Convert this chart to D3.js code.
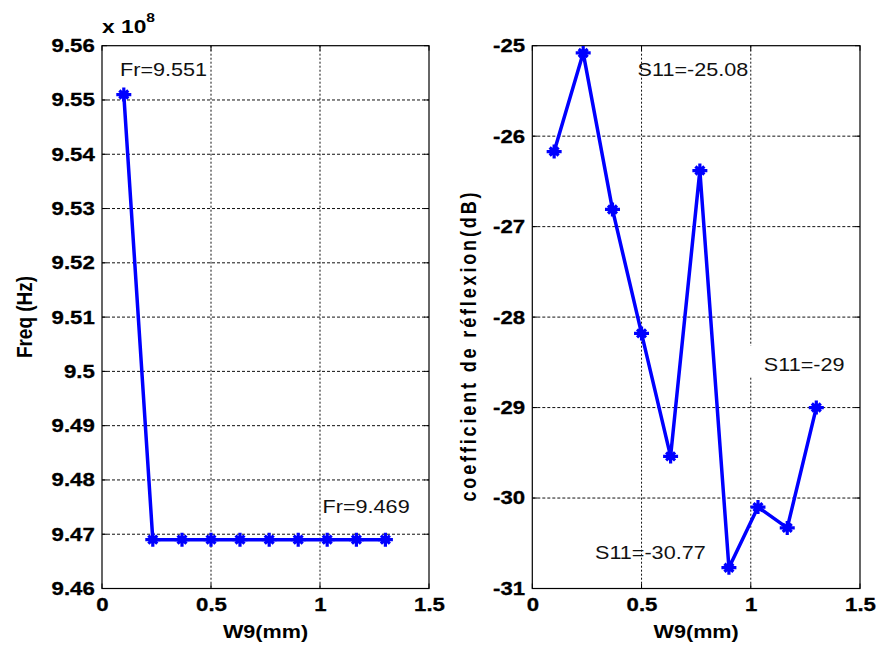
<!DOCTYPE html>
<html>
<head>
<meta charset="utf-8">
<script src="https://cdn.jsdelivr.net/npm/d3@7"></script>
<style>
  html, body { margin: 0; padding: 0; background: #fff; }
  svg { display: block; font-family: "Liberation Sans", Arial, sans-serif; }
</style>
</head>
<body>
<svg id="chart" width="881" height="648"></svg>
<script>
// ---------- data ----------
const w9 = [0.1, 0.233, 0.367, 0.5, 0.633, 0.767, 0.9, 1.033, 1.167, 1.3];
const freq = [9.551, 9.469, 9.469, 9.469, 9.469, 9.469, 9.469, 9.469, 9.469, 9.469]; // x 10^8 Hz
const s11 = [-26.17, -25.08, -26.81, -28.18, -29.54, -26.38, -30.77, -30.10, -30.33, -29.00];

const xTicks = [0, 0.5, 1, 1.5];
const xTickLabels = ["0", "0.5", "1", "1.5"];
const freqTicks = [9.46, 9.47, 9.48, 9.49, 9.50, 9.51, 9.52, 9.53, 9.54, 9.55, 9.56];
const freqTickLabels = ["9.46", "9.47", "9.48", "9.49", "9.5", "9.51", "9.52", "9.53", "9.54", "9.55", "9.56"];
const s11Ticks = [-31, -30, -29, -28, -27, -26, -25];
const s11TickLabels = ["-31", "-30", "-29", "-28", "-27", "-26", "-25"];

const freqNotes = [
  { text: "Fr=9.551", x: 0.083, y: 9.5544 },
  { text: "Fr=9.469", x: 1.012, y: 9.4739 }
];
const s11Notes = [
  { text: "S11=-25.08", x: 0.482, y: -25.335, box: false },
  { text: "S11=-29", x: 1.060, y: -28.594, box: true },
  { text: "S11=-30.77", x: 0.287, y: -30.676, box: false }
];

// ---------- layout ----------
const svg = d3.select("#chart");
const SX = 1.2; // horizontal stretch of the text in the reference
const BLUE = "#0000ff";

function panel(opts) {
  const g = svg.append("g");
  const x = d3.scaleLinear().domain([0, 1.5]).range([opts.left, opts.right]);
  const y = d3.scaleLinear().domain(opts.yDomain).range([opts.bottom, opts.top]);

  g.append("rect").attr("x", opts.left).attr("y", opts.top)
    .attr("width", opts.right - opts.left).attr("height", opts.bottom - opts.top)
    .attr("fill", "#fff");

  // grid
  g.append("g").selectAll("line").data(xTicks.slice(1, -1)).join("line")
    .attr("x1", d => x(d)).attr("x2", d => x(d))
    .attr("y1", opts.top).attr("y2", opts.bottom)
    .attr("stroke", "#111").attr("stroke-width", 1).attr("stroke-dasharray", "2,2");
  g.append("g").selectAll("line").data(opts.yTicks.slice(1, -1)).join("line")
    .attr("x1", opts.left).attr("x2", opts.right)
    .attr("y1", d => y(d)).attr("y2", d => y(d))
    .attr("stroke", "#111").attr("stroke-width", 1).attr("stroke-dasharray", "3,2");

  // inner ticks
  const tk = 5;
  g.append("g").selectAll("line").data(opts.yTicks).join("line")
    .attr("x1", opts.left).attr("x2", opts.left + tk).attr("y1", d => y(d)).attr("y2", d => y(d))
    .attr("stroke", "#000");
  g.append("g").selectAll("line").data(opts.yTicks).join("line")
    .attr("x1", opts.right).attr("x2", opts.right - tk).attr("y1", d => y(d)).attr("y2", d => y(d))
    .attr("stroke", "#000");
  g.append("g").selectAll("line").data(xTicks).join("line")
    .attr("x1", d => x(d)).attr("x2", d => x(d)).attr("y1", opts.bottom).attr("y2", opts.bottom - tk)
    .attr("stroke", "#000");
  g.append("g").selectAll("line").data(xTicks).join("line")
    .attr("x1", d => x(d)).attr("x2", d => x(d)).attr("y1", opts.top).attr("y2", opts.top + tk)
    .attr("stroke", "#000");

  // annotation boxes
  opts.notes.filter(n => n.box).forEach(n => {
    g.append("rect")
      .attr("x", x(n.x) - 16).attr("y", y(n.y) - 25)
      .attr("width", opts.right - x(n.x) + 14).attr("height", 31)
      .attr("fill", "#fff");
  });

  // frame
  g.append("rect").attr("x", opts.left).attr("y", opts.top)
    .attr("width", opts.right - opts.left).attr("height", opts.bottom - opts.top)
    .attr("fill", "none").attr("stroke", "#000").attr("stroke-width", 1.2);

  // axes (labels only)
  const ax = g.append("g").attr("transform", `translate(0,${opts.bottom})`)
    .call(d3.axisBottom(x).tickValues(xTicks).tickFormat((d, i) => xTickLabels[i]).tickSize(0).tickPadding(9));
  const ay = g.append("g").attr("transform", `translate(${opts.left},0)`)
    .call(d3.axisLeft(y).tickValues(opts.yTicks).tickFormat((d, i) => opts.yTickLabels[i]).tickSize(0).tickPadding(6));
  [ax, ay].forEach(a => {
    a.select(".domain").remove();
    a.selectAll("text")
      .attr("font-family", "'Liberation Sans', Arial, sans-serif")
      .attr("font-size", 18.5).attr("font-weight", "bold").attr("fill", "#000")
      .attr("stroke", "#000").attr("stroke-width", 0.3)
      .attr("transform", `scale(${SX},1)`);
  });

  // line + markers
  const pts = w9.map((d, i) => [d, opts.values[i]]);
  g.append("path").datum(pts)
    .attr("d", d3.line().x(d => x(d[0])).y(d => y(d[1])))
    .attr("fill", "none").attr("stroke", BLUE).attr("stroke-width", 3.5)
    .attr("stroke-linejoin", "round");
  const star = "M-7.5,0L7.5,0M0,-7L0,7M-4.5,-4L4.5,4M-4.5,4L4.5,-4";
  g.append("g").selectAll("path").data(pts).join("path")
    .attr("transform", d => `translate(${x(d[0])},${y(d[1])})`)
    .attr("d", star).attr("fill", "none").attr("stroke", BLUE).attr("stroke-width", 3.2);

  // notes
  opts.notes.forEach(n => {
    g.append("text").attr("transform", `translate(${x(n.x)},${y(n.y)}) scale(${SX},1)`)
      .attr("font-size", 18).attr("fill", "#111").text(n.text);
  });

  // x label
  g.append("text").attr("transform", `translate(${(opts.left + opts.right) / 2},638) scale(${SX},1)`)
    .attr("text-anchor", "middle").attr("font-size", 18).attr("font-weight", "bold").text("W9(mm)");

  return { g, x, y };
}

panel({
  left: 102, right: 429, top: 45.7, bottom: 588.5,
  yDomain: [9.46, 9.56], yTicks: freqTicks, yTickLabels: freqTickLabels,
  values: freq, notes: freqNotes
});
panel({
  left: 532.3, right: 860, top: 45.7, bottom: 588.5,
  yDomain: [-31, -25], yTicks: s11Ticks, yTickLabels: s11TickLabels,
  values: s11, notes: s11Notes
});

// y labels
svg.append("text").attr("transform", `translate(32,317) scale(${SX},1) rotate(-90)`)
  .attr("text-anchor", "middle").attr("font-size", 19).attr("font-weight", "bold").text("Freq (Hz)");
svg.append("text").attr("transform", `translate(476,347) scale(${SX},1) rotate(-90)`)
  .attr("text-anchor", "middle").attr("font-size", 18).attr("font-weight", "bold")
  .attr("textLength", 309).attr("lengthAdjust", "spacing")
  .text("coefficient de réflexion(dB)");

// exponent
const ex = svg.append("text").attr("transform", `translate(102,33) scale(${SX},1)`)
  .attr("font-size", 19).attr("font-weight", "bold");
ex.append("tspan").text("x 10");
ex.append("tspan").attr("dy", -11).attr("font-size", 13).text("8");
</script>
</body>
</html>
